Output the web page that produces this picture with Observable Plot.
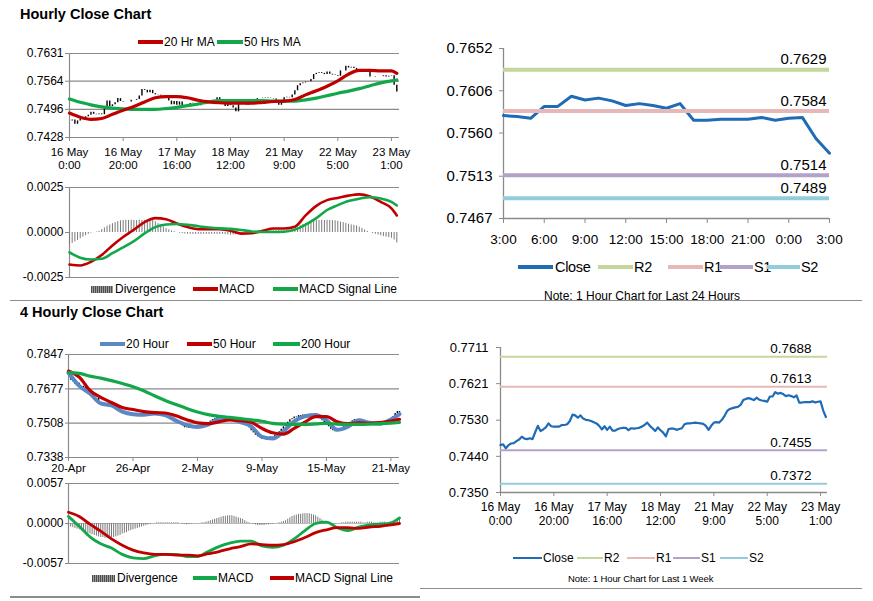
<!DOCTYPE html>
<html><head><meta charset="utf-8">
<script src="https://cdn.jsdelivr.net/npm/d3@7"></script>
<script src="https://cdn.jsdelivr.net/npm/@observablehq/plot@0.6"></script>
<style>
body{margin:0;background:#fff;}
#page{position:relative;width:873px;height:601px;overflow:hidden;font-family:"Liberation Sans",Arial,Helvetica,sans-serif;color:#000;background:#fff;}
#page svg{overflow:visible;}
.t{position:absolute;white-space:nowrap;}
</style></head><body><div id="page"></div>
<script>
// ---------------- DATA ----------------
// Hourly (16 May 0:00 .. 23 May 3:00), one value per trading hour
const hourlyTickIdx = [0,20,40,60,80,100,120];
const hourlyTickLabels = ["16 May\n0:00","16 May\n20:00","17 May\n16:00","18 May\n12:00","21 May\n9:00","22 May\n5:00","23 May\n1:00"];
const hourlyClose = [
0.7468,0.7470,0.7460,0.7468,0.7472,0.7473,0.7478,0.7482,0.7489,0.7484,
0.7483,0.7485,0.7483,0.7500,0.7516,0.7503,0.7507,0.7512,0.7522,0.7515,
0.7514,0.7514,0.7514,0.7518,0.7518,0.7520,0.7528,0.7544,0.7542,0.7536,
0.7542,0.7534,0.7531,0.7530,0.7528,0.7525,0.7522,0.7516,0.7507,0.7515,
0.7506,0.7514,0.7504,0.7504,0.7508,0.7510,0.7511,0.7511,0.7505,0.7510,
0.7509,0.7510,0.7511,0.7514,0.7518,0.7524,0.7516,0.7510,0.7503,0.7512,
0.7505,0.7499,0.7490,0.7508,0.7509,0.7509,0.7506,0.7508,0.7510,0.7520,
0.7522,0.7522,0.7523,0.7524,0.7523,0.7522,0.7521,0.7516,0.7506,0.7516,
0.7524,0.7525,0.7524,0.7531,0.7541,0.7553,0.7558,0.7560,0.7562,0.7563,
0.7568,0.7580,0.7583,0.7585,0.7583,0.7580,0.7586,0.7581,0.7579,0.7578,
0.7576,0.7589,0.7589,0.7600,0.7596,0.7598,0.7595,0.7590,0.7592,0.7590,
0.7587,0.7592,0.7574,0.7574,0.7575,0.7575,0.7575,0.7577,0.7574,0.7576,
0.7577,0.7554,0.7538];
const maHours = [0,4,8,12,16,20,24,28,32,36,40,44,48,52,56,60,64,68,72,76,80,84,88,92,96,100,104,108,112,116,120,122];
const ma20Hr = [0.7487,0.7477,0.7472,0.7474,0.7484,0.7494,0.7503,0.7514,0.7524,0.7527,0.7527,0.7524,0.7518,0.7514,0.7512,0.7511,0.7511,0.7511,0.7513,0.7515,0.7516,0.7520,0.7531,0.7541,0.7552,0.7565,0.7581,0.7590,0.7590,0.7589,0.7589,0.7583];
const ma50Hr = [0.7521,0.7513,0.7507,0.7502,0.7499,0.7497,0.7496,0.7496,0.7496,0.7498,0.7501,0.7505,0.7509,0.7514,0.7517,0.7517,0.7517,0.7517,0.7517,0.7516,0.7516,0.7516,0.7519,0.7523,0.7529,0.7535,0.7540,0.7546,0.7553,0.7560,0.7565,0.7567];
const macdHr = [-0.00178,-0.00183,-0.00163,-0.00125,-0.00072,-0.00025,0.00015,0.00058,0.00080,0.00074,0.00050,0.00030,0.00018,0.00019,0.00018,0.00010,-0.00006,-0.00004,0.00010,0.00022,0.00022,0.00032,0.00095,0.00148,0.00180,0.00192,0.00205,0.00212,0.00200,0.00170,0.00134,0.00095];
const signalHr = [-0.00110,-0.00140,-0.00150,-0.00146,-0.00115,-0.00082,-0.00048,-0.00005,0.00030,0.00044,0.00047,0.00043,0.00035,0.00028,0.00023,0.00020,0.00014,0.00006,0.00003,0.00003,0.00004,0.00016,0.00044,0.00080,0.00125,0.00152,0.00175,0.00188,0.00196,0.00189,0.00170,0.00150];
const divergenceHr = [
-0.00067,-0.00060,-0.00052,-0.00044,-0.00035,-0.00026,-0.00018,-0.00010,-0.00004,0.00000,
0.00003,0.00006,0.00016,0.00026,0.00035,0.00042,0.00049,0.00055,0.00061,0.00065,
0.00067,0.00068,0.00067,0.00068,0.00067,0.00066,0.00068,0.00067,0.00068,0.00067,
0.00068,0.00066,0.00060,0.00050,0.00040,0.00030,0.00022,0.00015,0.00009,0.00005,
0.00000,-0.00004,-0.00006,-0.00008,-0.00010,-0.00010,-0.00011,-0.00010,-0.00010,-0.00011,
-0.00010,-0.00010,-0.00011,-0.00010,-0.00010,-0.00010,-0.00011,-0.00010,-0.00012,-0.00013,
-0.00015,-0.00014,-0.00013,-0.00010,-0.00010,-0.00008,-0.00005,-0.00004,-0.00003,-0.00002,
0.00000,0.00003,0.00007,0.00010,0.00010,0.00011,0.00010,0.00010,0.00011,0.00010,
0.00010,0.00011,0.00010,0.00014,0.00018,0.00025,0.00037,0.00044,0.00050,0.00056,
0.00062,0.00067,0.00068,0.00067,0.00068,0.00067,0.00068,0.00067,0.00066,0.00065,
0.00062,0.00058,0.00055,0.00050,0.00046,0.00042,0.00040,0.00037,0.00030,0.00022,
0.00014,0.00006,0.00000,-0.00006,-0.00010,-0.00014,-0.00018,-0.00022,-0.00025,-0.00028,
-0.00032,-0.00042,-0.00058];
const hourlyPriceTicks = [0.7428,0.7496,0.7564,0.7631];
const hourlyMacdTicks = [-0.0025,0.0000,0.0025];

// Last 24 hours (22 May 3:00 .. 23 May 3:00)
const dayTickIdx = [0,3,6,9,12,15,18,21,24];
const dayTickLabels = ["3:00","6:00","9:00","12:00","15:00","18:00","21:00","0:00","3:00"];
const dayPriceTicks = [0.7467,0.7513,0.7560,0.7606,0.7652];
const pivotNames = ["R2","R1","S1","S2"];
const pivotDay = [0.7629,0.7584,0.7514,0.7489];
const pivotWeek = [0.7688,0.7613,0.7455,0.7372];
const weekPriceTicks = [0.7350,0.7440,0.7530,0.7621,0.7711];

// 4-hourly (20 Apr .. 22 May)
const fourHourTickIdx = [0,30,60,90,120,150];
const fourHourTickLabels = ["20-Apr","26-Apr","2-May","9-May","15-May","21-May"];
const fourHourClose = [
0.7745,0.7720,0.7712,0.7700,0.7705,0.7688,0.7680,0.7690,0.7668,0.7660,
0.7650,0.7640,0.7622,0.7630,0.7600,0.7595,0.7605,0.7598,0.7602,0.7590,
0.7595,0.7588,0.7575,0.7568,0.7560,0.7562,0.7555,0.7550,0.7558,0.7548,
0.7552,0.7545,0.7550,0.7546,0.7552,0.7545,0.7550,0.7556,0.7552,0.7560,
0.7565,0.7555,0.7560,0.7550,0.7545,0.7548,0.7540,0.7535,0.7530,0.7525,
0.7520,0.7512,0.7505,0.7495,0.7485,0.7490,0.7482,0.7488,0.7492,0.7486,
0.7490,0.7495,0.7488,0.7498,0.7505,0.7510,0.7518,0.7525,0.7530,0.7535,
0.7528,0.7532,0.7525,0.7530,0.7522,0.7525,0.7518,0.7520,0.7512,0.7515,
0.7505,0.7510,0.7500,0.7495,0.7485,0.7470,0.7460,0.7448,0.7440,0.7435,
0.7428,0.7432,0.7425,0.7435,0.7440,0.7438,0.7448,0.7455,0.7465,0.7478,
0.7490,0.7500,0.7512,0.7525,0.7530,0.7538,0.7535,0.7545,0.7540,0.7548,
0.7545,0.7550,0.7545,0.7550,0.7545,0.7540,0.7535,0.7530,0.7520,0.7510,
0.7500,0.7490,0.7478,0.7470,0.7465,0.7468,0.7475,0.7482,0.7490,0.7498,
0.7505,0.7512,0.7520,0.7525,0.7522,0.7515,0.7510,0.7505,0.7510,0.7508,
0.7502,0.7505,0.7510,0.7505,0.7508,0.7510,0.7515,0.7512,0.7518,0.7522,
0.7530,0.7540,0.7555,0.7565,0.7560];
const maBars = [0,5,10,15,20,25,30,35,40,45,50,55,60,65,70,75,80,85,90,95,100,105,110,115,120,125,130,135,140,145,150,154];
const ma20Hour = [0.7757,0.7692,0.7655,0.7605,0.7595,0.7565,0.7552,0.7549,0.7556,0.7547,0.7520,0.7498,0.7489,0.7500,0.7528,0.7528,0.7513,0.7492,0.7440,0.7432,0.7467,0.7517,0.7542,0.7548,0.7523,0.7475,0.7490,0.7522,0.7510,0.7505,0.7526,0.7552];
const ma50Hour = [0.7765,0.7735,0.7670,0.7635,0.7610,0.7585,0.7575,0.7565,0.7560,0.7558,0.7544,0.7525,0.7509,0.7505,0.7514,0.7524,0.7520,0.7512,0.7482,0.7460,0.7454,0.7482,0.7513,0.7540,0.7540,0.7515,0.7505,0.7509,0.7507,0.7511,0.7518,0.7527];
const ma200Hour = [0.7757,0.7754,0.7740,0.7730,0.7718,0.7704,0.7688,0.7668,0.7643,0.7620,0.7600,0.7580,0.7563,0.7550,0.7542,0.7536,0.7530,0.7524,0.7517,0.7507,0.7503,0.7502,0.7502,0.7504,0.7507,0.7503,0.7502,0.7502,0.7503,0.7505,0.7508,0.7511];
const macd4H = [0.0010,-0.0004,-0.0019,-0.0029,-0.0035,-0.0044,-0.0049,-0.0050,-0.0046,-0.0044,-0.0044,-0.0047,-0.0047,-0.0040,-0.0033,-0.0028,-0.0025,-0.0025,-0.0032,-0.0034,-0.0031,-0.0022,-0.0010,0.0000,0.0002,-0.0006,-0.0010,-0.0005,-0.0002,-0.0001,0.0001,0.0008];
const signal4H = [0.0016,0.0010,-0.0001,-0.0011,-0.0022,-0.0031,-0.0038,-0.0042,-0.0044,-0.0044,-0.0045,-0.0045,-0.0046,-0.0043,-0.0040,-0.0036,-0.0033,-0.0029,-0.0030,-0.0031,-0.0030,-0.0026,-0.0020,-0.0013,-0.0009,-0.0006,-0.0006,-0.0007,-0.0005,-0.0004,-0.0002,0.0000];
const divergence4H = [
-0.0004,-0.0005,-0.0006,-0.0007,-0.0008,-0.0009,-0.0010,-0.0012,-0.0013,-0.0014,
-0.0015,-0.0016,-0.0017,-0.0018,-0.0019,-0.0020,-0.0020,-0.0021,-0.0021,-0.0021,
-0.0020,-0.0020,-0.0019,-0.0018,-0.0017,-0.0015,-0.0014,-0.0013,-0.0011,-0.0010,
-0.0009,-0.0008,-0.0007,-0.0006,-0.0005,-0.0004,-0.0003,-0.0002,-0.0001,0.0000,
0.0000,0.0001,0.0001,0.0001,0.0001,0.0001,0.0001,0.0001,0.0001,0.0001,
0.0001,0.0001,0.0000,-0.0001,-0.0001,-0.0002,-0.0001,-0.0001,0.0000,0.0000,
0.0000,0.0000,0.0001,0.0001,0.0002,0.0003,0.0004,0.0005,0.0006,0.0007,
0.0008,0.0009,0.0010,0.0010,0.0011,0.0011,0.0011,0.0010,0.0009,0.0008,
0.0007,0.0006,0.0004,0.0002,0.0001,0.0000,-0.0001,-0.0002,-0.0003,-0.0003,
-0.0003,-0.0003,-0.0002,-0.0002,-0.0001,-0.0001,0.0000,0.0000,0.0001,0.0002,
0.0003,0.0004,0.0006,0.0008,0.0010,0.0011,0.0012,0.0013,0.0013,0.0014,
0.0014,0.0014,0.0014,0.0013,0.0012,0.0011,0.0009,0.0007,0.0005,0.0003,
0.0001,0.0000,-0.0001,-0.0001,-0.0001,0.0000,0.0000,0.0001,0.0001,0.0002,
0.0002,0.0002,0.0002,0.0002,0.0002,0.0002,0.0002,0.0001,0.0001,0.0002,
0.0002,0.0002,0.0001,0.0001,0.0001,0.0002,0.0002,0.0002,0.0001,0.0001,
0.0002,0.0003,0.0004,0.0005,0.0006];
const fourHourPriceTicks = [0.7338,0.7508,0.7677,0.7847];
const fourHourMacdTicks = [-0.0057,0.0000,0.0057];

// ---------------- STYLE ----------------
const FONT = '"Liberation Sans", Arial, Helvetica, sans-serif';
const GRID = "#8a8a8a";
const RED = "#c00000", GREEN = "#12a84a", BLUE = "#1f6bb5", STEEL = "#5b87c5", BAR = "#7a7a7a";
const pivotColors = ["#c3d69b","#e6b9b8","#b3a2c7","#93cddd"];
const page = document.getElementById("page");

function put(node, left, top){ node.style.position="absolute"; node.style.left=left+"px"; node.style.top=top+"px"; page.appendChild(node); return node; }
function label(str, left, cy, size, extra){ const d=document.createElement("div"); d.className="t"; d.textContent=str; const lh=Math.round(size*1.2); d.style.cssText+=`left:${left}px;top:${cy-lh/2}px;font-size:${size}px;line-height:${lh}px;${extra||""}`; page.appendChild(d); return d; }
function box(x1,x2,cy,h,bg){ const d=document.createElement("div"); d.style.cssText=`position:absolute;left:${x1}px;width:${x2-x1}px;top:${cy-h/2}px;height:${h}px;background:${bg}`; page.appendChild(d); return d; }
function legend(items, cy, size, extra){ for(const it of items){ box(it.x1,it.x2,cy,it.h,it.bg); label(it.label,it.tx,cy,size,extra); } }
const hatch = "repeating-linear-gradient(90deg,#4d4d4d 0 1px,#9a9a9a 1px 2px)";
const fmt4 = d => d.toFixed(4);
const series = (xs, ys) => xs.map((x,k)=>({x, y: ys[k]}));
const bars = closes => closes.map((c,i)=>({x:i, o: i ? closes[i-1] : c, c}));
const style = {fontFamily: FONT, fontSize: "12px", color: "#000", background: "transparent", overflow: "visible"};

// ---------------- TITLES / SEPARATORS ----------------
label("Hourly Close Chart", 20, 14, 14.5, "font-weight:bold;");
label("4 Hourly Close Chart", 20, 312, 14.5, "font-weight:bold;");
box(10, 862, 300.5, 1.5, "#8c8c8c");
box(10, 420, 597, 1.5, "#8c8c8c");
box(420, 862, 588.5, 1.5, "#8c8c8c");

// ---------------- TOP-LEFT: hourly price ----------------
put(Plot.plot({
  width: 420, height: 130, marginLeft: 69, marginRight: 21, marginTop: 8, marginBottom: 38, style,
  x: {domain: [0, 123], label: null}, y: {domain: [hourlyPriceTicks[0], hourlyPriceTicks[3]], label: null},
  marks: [
    Plot.ruleY(hourlyPriceTicks, {stroke: GRID, strokeWidth: 1.2}),
    Plot.ruleX([0], {stroke: GRID, strokeWidth: 1.2}),
    Plot.ruleX(bars(hourlyClose), {x: "x", y1: "o", y2: "c", stroke: "#000", strokeWidth: 1.4}),
    Plot.line(series(maHours, ma50Hr), {x: "x", y: "y", stroke: GREEN, strokeWidth: 3.2, curve: "monotone-x"}),
    Plot.line(series(maHours, ma20Hr), {x: "x", y: "y", stroke: RED, strokeWidth: 3.2, curve: "monotone-x"}),
    Plot.axisY({ticks: hourlyPriceTicks, tickFormat: fmt4, tickSize: 4, tickPadding: 2, fontSize: 12, stroke: GRID, fill: "#000", label: null}),
    Plot.axisX({ticks: hourlyTickIdx, tickFormat: d => hourlyTickLabels[hourlyTickIdx.indexOf(d)], tickSize: 4, tickPadding: 6, fontSize: 11.5, lineHeight: 1.1, stroke: GRID, fill: "#000", label: null})
  ]
}), 0, 45);
legend([
  {x1:138, x2:163, h:4, bg:RED, tx:164, label:"20 Hr MA"},
  {x1:217, x2:243, h:4, bg:GREEN, tx:244, label:"50 Hrs MA"}
], 42, 12);

// ---------------- TOP-LEFT: hourly MACD ----------------
put(Plot.plot({
  width: 420, height: 100, marginLeft: 69, marginRight: 21, marginTop: 7, marginBottom: 3, style,
  x: {domain: [0, 123], axis: null}, y: {domain: [-0.0025, 0.0025], label: null},
  marks: [
    Plot.ruleY([0.0025, -0.0025], {stroke: GRID, strokeWidth: 1.2}),
    Plot.ruleX([0], {stroke: GRID, strokeWidth: 1.2}),
    Plot.ruleX(divergenceHr.map((d,i)=>({x:i, d})), {x: "x", y1: 0, y2: "d", stroke: BAR, strokeWidth: 1}),
    Plot.line(series(maHours, macdHr), {x: "x", y: "y", stroke: RED, strokeWidth: 2.6, curve: "monotone-x"}),
    Plot.line(series(maHours, signalHr), {x: "x", y: "y", stroke: GREEN, strokeWidth: 2.6, curve: "monotone-x"}),
    Plot.axisY({ticks: hourlyMacdTicks, tickFormat: fmt4, tickSize: 4, tickPadding: 2, fontSize: 12, stroke: GRID, fill: "#000", label: null})
  ]
}), 0, 180);
legend([
  {x1:91, x2:113, h:7, bg:hatch, tx:115, label:"Divergence"},
  {x1:193, x2:218, h:3.5, bg:RED, tx:219, label:"MACD"},
  {x1:273, x2:298, h:3.5, bg:GREEN, tx:299, label:"MACD Signal Line"}
], 289, 12);

// ---------------- TOP-RIGHT: last 24 hours ----------------
const dayClose = hourlyClose.slice(hourlyClose.length - 25).map((c,i)=>({x:i, c}));
const dayPivots = pivotNames.map((n,k)=>({n, v: pivotDay[k]}));
put(Plot.plot({
  width: 453, height: 225, marginLeft: 83, marginRight: 44, marginTop: 13, marginBottom: 42, style,
  x: {domain: [0, 24], label: null}, y: {domain: [dayPriceTicks[0], dayPriceTicks[4]], label: null},
  color: {domain: pivotNames, range: pivotColors},
  marks: [
    Plot.ruleX([0], {stroke: GRID, strokeWidth: 1.3}),
    Plot.ruleY([dayPriceTicks[0]], {stroke: GRID, strokeWidth: 1.3}),
    Plot.line(dayClose, {x: "x", y: "c", stroke: BLUE, strokeWidth: 3}),
    Plot.ruleY(dayPivots, {y: "v", stroke: "n", strokeWidth: 4}),
    Plot.text(dayPivots, {x: 24, y: "v", text: d => d.v.toFixed(4), textAnchor: "end", dx: -3, dy: -10, fontSize: 15, fill: "#000"}),
    Plot.axisY({ticks: dayPriceTicks, tickFormat: fmt4, tickSize: 4, tickPadding: 7, fontSize: 15, stroke: GRID, fill: "#000", label: null}),
    Plot.axisX({ticks: dayTickIdx, tickFormat: d => dayTickLabels[dayTickIdx.indexOf(d)], tickSize: 5, tickPadding: 11, fontSize: 13.5, stroke: GRID, fill: "#000", label: null})
  ]
}), 420, 35);
legend([
  {x1:518, x2:553, h:4, bg:BLUE, tx:555, label:"Close"},
  {x1:598, x2:633, h:4, bg:pivotColors[0], tx:634, label:"R2"},
  {x1:668, x2:703, h:4, bg:pivotColors[1], tx:704, label:"R1"},
  {x1:720, x2:753, h:4, bg:pivotColors[2], tx:754, label:"S1"},
  {x1:767, x2:800, h:4, bg:pivotColors[3], tx:801, label:"S2"}
], 267, 14.5, "letter-spacing:-0.3px;");
label("Note: 1 Hour Chart for Last 24 Hours", 544, 296, 12, "letter-spacing:0px;");

// ---------------- BOTTOM-LEFT: 4 hourly price ----------------
put(Plot.plot({
  width: 420, height: 130, marginLeft: 68, marginRight: 21, marginTop: 9, marginBottom: 18, style,
  x: {domain: [0, 154], label: null}, y: {domain: [fourHourPriceTicks[0], fourHourPriceTicks[3]], label: null},
  marks: [
    Plot.ruleY(fourHourPriceTicks, {stroke: GRID, strokeWidth: 1.2}),
    Plot.ruleX([0], {stroke: GRID, strokeWidth: 1.2}),
    Plot.ruleX(bars(fourHourClose), {x: "x", y1: "o", y2: "c", stroke: "#000", strokeWidth: 1.4}),
    Plot.line(series(maBars, ma20Hour), {x: "x", y: "y", stroke: STEEL, strokeWidth: 4, curve: "monotone-x"}),
    Plot.line(series(maBars, ma50Hour), {x: "x", y: "y", stroke: RED, strokeWidth: 3.2, curve: "monotone-x"}),
    Plot.line(series(maBars, ma200Hour), {x: "x", y: "y", stroke: GREEN, strokeWidth: 3.2, curve: "monotone-x"}),
    Plot.axisY({ticks: fourHourPriceTicks, tickFormat: fmt4, tickSize: 3, tickPadding: 2, fontSize: 12, stroke: GRID, fill: "#000", label: null}),
    Plot.axisX({ticks: fourHourTickIdx, tickFormat: d => fourHourTickLabels[fourHourTickIdx.indexOf(d)], tickSize: 4, tickPadding: 2, fontSize: 11.5, stroke: GRID, fill: "#000", label: null})
  ]
}), 0, 345);
legend([
  {x1:100, x2:125, h:4.5, bg:STEEL, tx:126, label:"20 Hour"},
  {x1:187, x2:212, h:4, bg:RED, tx:213, label:"50 Hour"},
  {x1:273, x2:300, h:4, bg:GREEN, tx:301, label:"200 Hour"}
], 344, 12);

// ---------------- BOTTOM-LEFT: 4 hourly MACD ----------------
put(Plot.plot({
  width: 420, height: 92, marginLeft: 68, marginRight: 21, marginTop: 7, marginBottom: 5, style,
  x: {domain: [0, 154], axis: null}, y: {domain: [-0.0057, 0.0057], label: null},
  marks: [
    Plot.ruleY([0.0057, -0.0057], {stroke: GRID, strokeWidth: 1.2}),
    Plot.ruleY([0], {stroke: "#a8a8a8", strokeWidth: 0.8}),
    Plot.ruleX([0], {stroke: GRID, strokeWidth: 1.2}),
    Plot.ruleX(divergence4H.map((d,i)=>({x:i, d})), {x: "x", y1: 0, y2: "d", stroke: BAR, strokeWidth: 1}),
    Plot.line(series(maBars, macd4H), {x: "x", y: "y", stroke: GREEN, strokeWidth: 2.8, curve: "monotone-x"}),
    Plot.line(series(maBars, signal4H), {x: "x", y: "y", stroke: RED, strokeWidth: 2.8, curve: "monotone-x"}),
    Plot.axisY({ticks: fourHourMacdTicks, tickFormat: fmt4, tickSize: 3, tickPadding: 2, fontSize: 12, stroke: GRID, fill: "#000", label: null})
  ]
}), 0, 476);
legend([
  {x1:92, x2:115, h:7, bg:hatch, tx:117, label:"Divergence"},
  {x1:193, x2:217, h:3.5, bg:GREEN, tx:218, label:"MACD"},
  {x1:270, x2:294, h:3.5, bg:RED, tx:295, label:"MACD Signal Line"}
], 578, 12);

// ---------------- BOTTOM-RIGHT: last 1 week ----------------
const weekClose = hourlyClose.map((c,i)=>({x:i, c}));
const weekPivots = pivotNames.map((n,k)=>({n, v: pivotWeek[k]}));
put(Plot.plot({
  width: 453, height: 200, marginLeft: 80, marginRight: 46, marginTop: 12, marginBottom: 43, style,
  x: {domain: [0, 122.6], label: null}, y: {domain: [weekPriceTicks[0], weekPriceTicks[4]], label: null},
  color: {domain: pivotNames, range: pivotColors},
  marks: [
    Plot.ruleX([0], {stroke: GRID, strokeWidth: 1.3}),
    Plot.ruleY([weekPriceTicks[0]], {stroke: GRID, strokeWidth: 1.3}),
    Plot.line(weekClose, {x: "x", y: "c", stroke: BLUE, strokeWidth: 2.2}),
    Plot.ruleY(weekPivots, {y: "v", stroke: "n", strokeWidth: 2}),
    Plot.text(weekPivots, {x: 122.6, y: "v", text: d => d.v.toFixed(4), textAnchor: "end", dx: -16, dy: -8, fontSize: 13.5, fill: "#000"}),
    Plot.axisY({ticks: weekPriceTicks, tickFormat: fmt4, tickSize: 4, tickPadding: 8, fontSize: 13, stroke: GRID, fill: "#000", label: null}),
    Plot.axisX({ticks: hourlyTickIdx, tickFormat: d => hourlyTickLabels[hourlyTickIdx.indexOf(d)], tickSize: 4, tickPadding: 5, fontSize: 12, lineHeight: 1.15, stroke: GRID, fill: "#000", label: null})
  ]
}), 420, 335);
legend([
  {x1:513, x2:542, h:2.5, bg:BLUE, tx:543, label:"Close"},
  {x1:577, x2:603, h:2, bg:pivotColors[0], tx:604, label:"R2"},
  {x1:627, x2:655, h:2, bg:pivotColors[1], tx:656, label:"R1"},
  {x1:673, x2:700, h:2, bg:pivotColors[2], tx:701, label:"S1"},
  {x1:720, x2:748, h:2, bg:pivotColors[3], tx:749, label:"S2"}
], 558, 12);
label("Note: 1 Hour Chart for Last 1 Week", 568, 578, 9.5, "letter-spacing:-0.1px;");
</script>
</body></html>
